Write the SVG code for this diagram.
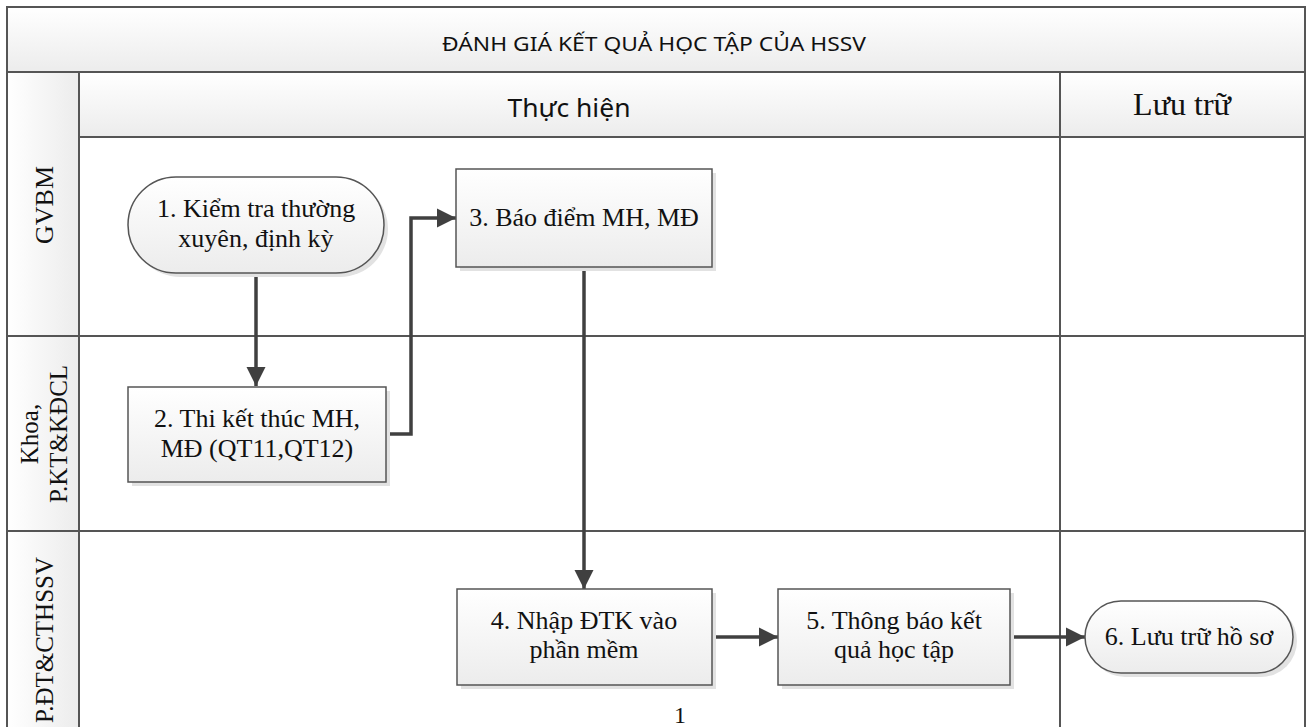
<svg xmlns="http://www.w3.org/2000/svg" width="1309" height="727" viewBox="0 0 1309 727">
<defs>
<linearGradient id="gv" x1="0" y1="0" x2="0" y2="1"><stop offset="0" stop-color="#ffffff"/><stop offset="1" stop-color="#ececec"/></linearGradient>
<linearGradient id="gh" x1="0" y1="0" x2="1" y2="0"><stop offset="0" stop-color="#ffffff"/><stop offset="1" stop-color="#ececec"/></linearGradient>
<marker id="ah" viewBox="0 0 10 10" refX="10" refY="5" markerWidth="5.5" markerHeight="5.5" markerUnits="strokeWidth" orient="auto"><path d="M0,0 L10,5 L0,10 z" fill="#404040"/></marker>
<style>
.grid{stroke:#555;stroke-width:2;fill:none}
.cell{fill:url(#gv)}
.lcell{fill:url(#gh)}
.node{fill:url(#gv);stroke:#555;stroke-width:1.5}
.shadow{fill:#e2e2e2}
.t{font-family:"Liberation Serif","Times New Roman",serif;font-size:26px;fill:#111;text-anchor:middle}
.lane{font-family:"Liberation Serif","Times New Roman",serif;font-size:25px;fill:#111;text-anchor:middle}
.sans{font-family:"Noto Sans","Open Sans",sans-serif;fill:#111;text-anchor:middle}
.conn{stroke:#404040;stroke-width:3.5;fill:none;marker-end:url(#ah)}
</style>
</defs>
<rect x="0" y="0" width="1309" height="727" fill="#fff"/>
<g id="frame">
<rect class="cell" x="7" y="7" width="1298" height="65"/>
<rect class="cell" x="79" y="72" width="1226" height="65"/>
<rect class="lcell" x="7" y="72" width="72" height="660"/>
<rect class="grid" x="7" y="7" width="1298" height="730"/>
<line class="grid" x1="7" y1="72" x2="1305" y2="72"/>
<line class="grid" x1="79" y1="72" x2="79" y2="737"/>
<line class="grid" x1="79" y1="137" x2="1305" y2="137"/>
<line class="grid" x1="1060" y1="72" x2="1060" y2="737"/>
<line class="grid" x1="7" y1="336" x2="1305" y2="336"/>
<line class="grid" x1="7" y1="531" x2="1305" y2="531"/>
<text class="sans" x="654" y="51" style="font-size:20px" textLength="424" lengthAdjust="spacingAndGlyphs">ĐÁNH GIÁ KẾT QUẢ HỌC TẬP CỦA HSSV</text>
<text class="sans" x="569" y="117" style="font-size:25px" textLength="123" lengthAdjust="spacingAndGlyphs">Thực hiện</text>
<text class="t" x="1182" y="115" style="font-size:32px">Lưu trữ</text>
<text class="lane" transform="translate(53,205) rotate(-90)" style="font-size:26px">GVBM</text>
<text class="lane" transform="translate(38,434) rotate(-90)">Khoa,</text>
<text class="lane" transform="translate(67,434) rotate(-90)">P.KT&amp;KĐCL</text>
<text class="lane" transform="translate(53,640) rotate(-90)">P.ĐT&amp;CTHSSV</text>
</g>
<g id="connectors">
<path class="conn" d="M256,273 L256,386"/>
<path class="conn" d="M386,434 L411,434 L411,218 L456,218"/>
<path class="conn" d="M584,267 L584,589"/>
<path class="conn" d="M712,637 L778,637"/>
<path class="conn" d="M1010,637 L1085,637"/>
</g>
<g id="n1">
<rect class="shadow" x="132" y="181" width="256" height="96" rx="48"/>
<rect class="node" x="128" y="177" width="256" height="96" rx="48"/>
<text class="t" x="256" y="217">1. Kiểm tra thường</text>
<text class="t" x="256" y="247">xuyên, định kỳ</text>
</g>
<g id="n2">
<rect class="shadow" x="132" y="391" width="258" height="95"/>
<rect class="node" x="128" y="387" width="258" height="95"/>
<text class="t" x="257" y="427">2. Thi kết thúc MH,</text>
<text class="t" x="257" y="457">MĐ (QT11,QT12)</text>
</g>
<g id="n3">
<rect class="shadow" x="460" y="173" width="256" height="98"/>
<rect class="node" x="456" y="169" width="256" height="98"/>
<text class="t" x="584" y="226">3. Báo điểm MH, MĐ</text>
</g>
<g id="n4">
<rect class="shadow" x="461" y="593" width="255" height="96"/>
<rect class="node" x="457" y="589" width="255" height="96"/>
<text class="t" x="584" y="629">4. Nhập ĐTK vào</text>
<text class="t" x="584" y="658">phần mềm</text>
</g>
<g id="n5">
<rect class="shadow" x="782" y="593" width="232" height="96"/>
<rect class="node" x="778" y="589" width="232" height="96"/>
<text class="t" x="894" y="629">5. Thông báo kết</text>
<text class="t" x="894" y="658">quả học tập</text>
</g>
<g id="n6">
<rect class="shadow" x="1089" y="605" width="208" height="72" rx="36"/>
<rect class="node" x="1085" y="601" width="208" height="72" rx="36"/>
<text class="t" x="1189" y="645">6. Lưu trữ hồ sơ</text>
</g>
<text class="t" x="680" y="723" style="font-size:24px">1</text>
</svg>
